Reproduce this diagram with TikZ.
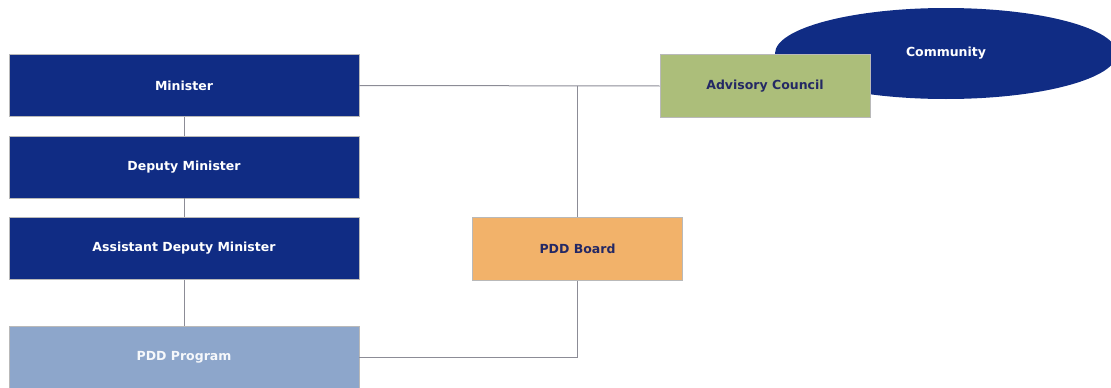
\documentclass[tikz,border=0pt]{standalone}
\usepackage{fontspec}
\setmainfont{DejaVu Sans}
\usetikzlibrary{shapes.geometric}
\definecolor{navy}{RGB}{16,44,132}
\definecolor{paleblue}{RGB}{141,166,203}
\definecolor{boardorange}{RGB}{242,178,106}
\definecolor{councilgreen}{RGB}{172,190,122}
\definecolor{inktext}{RGB}{36,40,100}
\definecolor{wire}{RGB}{140,140,150}
\begin{document}
\begin{tikzpicture}[x=1pt,y=-1pt,
  label font/.style={font=\bfseries\fontsize{12.5}{15}\selectfont},
  box/.style={draw=gray!55, line width=0.6pt, rectangle, inner sep=0pt, label font},
  navybox/.style={box, fill=navy, text=white, minimum width=350pt, minimum height=62pt},
  programbox/.style={box, fill=paleblue, text=white!92!paleblue, minimum width=350pt, minimum height=62pt},
  sidebox/.style={box, text=inktext, minimum width=210pt, minimum height=63pt},
  link/.style={draw=wire, line width=1pt}]
\useasboundingbox (0,0) rectangle (1111,388);
% the community oval runs off the right edge
\begin{scope}
  \clip (0,0) rectangle (1111,388);
  \node[ellipse, fill=navy, minimum width=342pt, minimum height=91pt, inner sep=0pt,
        text=white, label font] (community) at (946,53.5) {\raisebox{-2.5pt}{Community}};
\end{scope}

\node[navybox] (minister) at (184,85.5) {\raisebox{-1pt}{Minister}};
\node[navybox] (deputy) at (184,167) {\raisebox{-1pt}{Deputy Minister}};
\node[navybox] (adm) at (184,248.5) {\raisebox{-1pt}{Assistant Deputy Minister}};
\node[programbox] (program) at (184,357) {\raisebox{-1pt}{PDD Program}};
\node[sidebox, fill=boardorange] (board) at (577.5,249) {PDD Board};
\node[sidebox, fill=councilgreen] (council) at (765,86) {\raisebox{-1pt}{Advisory Council}};

\coordinate (junction) at (board.north |- minister.east);
\coordinate (corner) at (board.south |- program.east);

\draw[link] (minister) -- (deputy);
\draw[link] (deputy) -- (adm);
\draw[link] (adm) -- (program);
\draw[link] (minister.east) -- (council.west);
\draw[link] (junction) -- (board.north);
\draw[link] (board.south) -- (corner) -- (program.east);
\end{tikzpicture}
\end{document}
